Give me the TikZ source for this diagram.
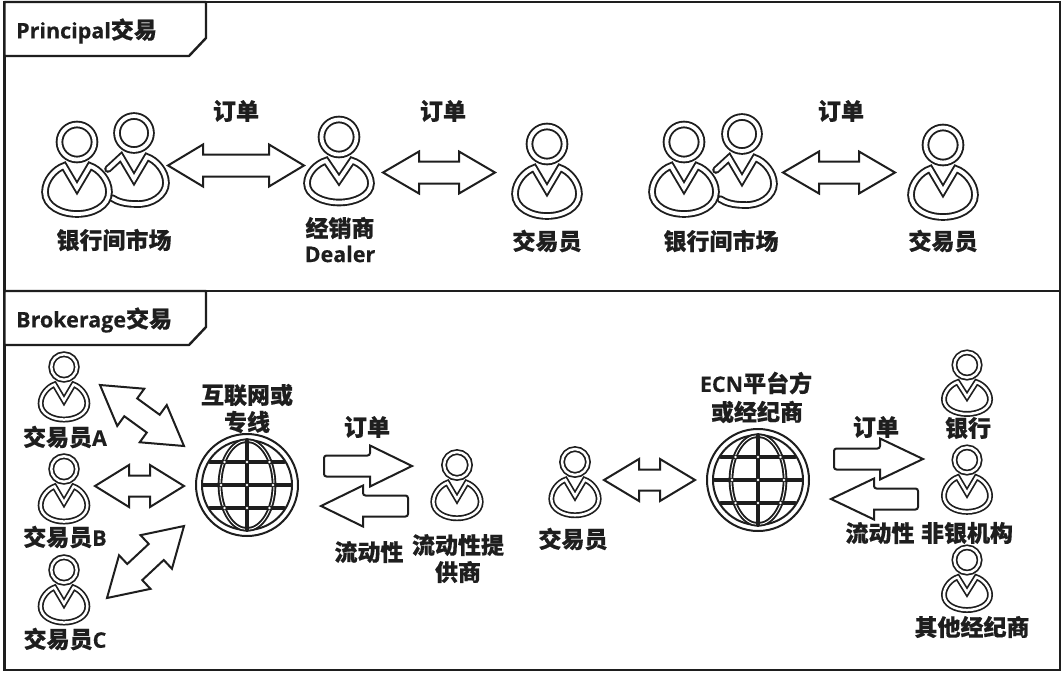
\documentclass[tikz,border=0pt]{standalone}
\usepackage{fontspec}
\setmainfont[BoldFeatures={FakeBold=0.3}]{Open Sans}
\newfontfamily\cjkf[BoldFeatures={FakeBold=0.5}]{Noto Sans CJK SC}
\newcommand{\zh}[1]{{\cjkf\bfseries\fontsize{23}{25}\selectfont #1}}
\definecolor{ink}{HTML}{1E1E1E}
\tikzset{
  frameline/.style={draw=ink,line width=2.4pt,line join=miter},
  tabbox/.style={draw=ink,line width=2.4pt,fill=white,line join=round},
  lbl/.style={text=ink,inner sep=0pt,font=\bfseries\fontsize{21.5}{24}\selectfont},
  tabtxt/.style={lbl,anchor=west},
  bigline/.style={draw=ink,fill=none,line width=1.9pt,double=white,double distance=3.8pt,line join=miter},
  smallline/.style={draw=ink,fill=none,line width=1.7pt,double=white,double distance=2.5pt,line join=miter},
  block/.style={draw=ink,line width=2pt,fill=white,line join=miter},
  ringline/.style={draw=ink,line width=2pt},
  gridline/.style={draw=ink,line cap=round},
  merid/.style={draw=ink,line width=1.9pt,double=white,double distance=0.9pt},
}
% #1 name, #2 x, #3 y, #4 scale, #5 vertical scale of the body, #6 line style
\newcommand{\person}[6]{%
  \coordinate (#1) at (#2,#3);
  \begin{scope}[shift={(#1)},scale=#4]
    \begin{scope}[shift={(0,22)},yscale=#5,shift={(0,-22)}]
      \draw[#6] (0,46) -- (-13,24) .. controls (-22,27) and (-32,38) .. (-32,50)
        .. controls (-32,64) and (-16,72) .. (0,72)
        .. controls (16,72) and (32,64) .. (32,50)
        .. controls (32,38) and (22,27) .. (13,24) -- cycle;
    \end{scope}
    \draw[#6] (0,0) circle[radius=17.5];
  \end{scope}}
% partly hidden person behind another
\newcommand{\backperson}[3]{%
  \coordinate (#1) at (#2,#3);
  \begin{scope}[shift={(#1)}]
    \draw[bigline,line cap=round] (-26,36) -- (-13,24) -- (0,46) -- (13,24)
      .. controls (22,27) and (32,38) .. (32,50)
      .. controls (32,62) and (18,72) .. (2,71)
      .. controls (-8,71) and (-16,69) .. (-22,65);
    \draw[bigline] (0,0) circle[radius=17];
  \end{scope}}
% #1 name, #2,#3 one tip, #4,#5 other tip, #6 head length, #7 head half width, #8 shaft half width
\newcommand{\dblarrow}[8]{%
  \coordinate (#1a) at (#2,#3);
  \coordinate (#1b) at (#4,#5);
  \pgfmathsetmacro\arlen{veclen(#4-#2,#5-#3)}
  \pgfmathsetmacro\arang{atan2(-(#5-#3),#4-#2)}
  \begin{scope}[shift={(#1a)},rotate=\arang]
    \draw[block] (0,0) -- (#6,#7) -- (#6,#8) -- ({\arlen-#6},#8) -- ({\arlen-#6},#7)
      -- (\arlen,0) -- ({\arlen-#6},-#7) -- ({\arlen-#6},-#8) -- (#6,-#8) -- (#6,-#7) -- cycle;
  \end{scope}}
% #1 name, #2 tail x, #3 head-base x, #4 tip x, #5 y
\newcommand{\singlearrow}[5]{%
  \coordinate (#1a) at (#2,#5);
  \coordinate (#1b) at (#4,#5);
  \draw[block] (#3,#5-20.5) -- (#1b) -- (#3,#5+20.5) -- (#3,#5+10.5)
    [rounded corners=2.5pt] -- (#2,#5+10.5) -- (#2,#5-10.5) -- (#3,#5-10.5) [sharp corners] -- cycle;}
\newcommand{\globe}[3]{%
  \coordinate (#1) at (#2,#3);
  \begin{scope}[shift={(#1)}]
    \fill[white] (0,0) circle[radius=52];
    \draw[ringline] (0,0) circle[radius=51];
    \draw[ringline] (0,0) circle[radius=45];
    \draw[merid] (0,0) ellipse[x radius=27,y radius=44.5];
    \draw[gridline,line width=4.6pt] (-43,0) -- (43,0);
    \draw[gridline,line width=4.2pt] (-37,-23) -- (37,-23);
    \draw[gridline,line width=4.2pt] (-37,23) -- (37,23);
    \draw[gridline,line width=4.6pt] (0,-44) -- (0,44);
    \foreach \gx/\gy in {0/0,-26/0,26/0,0/-23,0/23,-22.5/-23,22.5/-23,-22.5/23,22.5/23}
      \fill[white] (\gx,\gy) circle[radius=1.3];
  \end{scope}}
\begin{document}
\begin{tikzpicture}[x=1pt,y=-1pt]
\useasboundingbox (0,0) rectangle (1063,673);
\fill[white] (0,0) rectangle (1063,673);
% frames
\coordinate (tl) at (4.5,2);
\coordinate (br) at (1060,670);
\draw[frameline] (tl) rectangle (br);
\draw[frameline] (4.5,291) -- (1060,291);
\draw[tabbox] (tl) -- (206,2) -- (206,38) -- (189,56) -- (4.5,56) -- cycle;
\draw[tabbox] (4.5,291) -- (206,291) -- (206,327) -- (189,345) -- (4.5,345) -- cycle;
% people, upper panel
\backperson{b1}{134}{133}
\person{p1}{77}{142}{1}{1}{bigline}
\person{dealer}{339}{137}{1}{0.87}{bigline}
\person{t1}{547}{144}{1}{1}{bigline}
\backperson{b2}{742}{134}
\person{p2}{684}{142}{1}{1}{bigline}
\person{t2}{943}{145}{1}{1}{bigline}
% people, lower panel
\person{ta}{64}{367}{0.73}{1}{smallline}
\person{tb}{64}{469}{0.73}{1}{smallline}
\person{tc}{64}{570}{0.73}{1}{smallline}
\person{lp}{457}{465}{0.74}{1}{smallline}
\person{t3}{575}{462}{0.74}{1}{smallline}
\person{bank}{967}{365}{0.72}{0.92}{smallline}
\person{nb}{967}{460}{0.72}{1}{smallline}
\person{ob}{967}{560}{0.72}{0.95}{smallline}
% globes
\globe{g1}{247}{485}
\globe{g2}{758}{480}
% block arrows
\dblarrow{u1}{168}{165.5}{304}{165.5}{35}{21}{11}
\dblarrow{u2}{383}{172.5}{495}{172.5}{36}{21}{11}
\dblarrow{u3}{783}{172.5}{895}{172.5}{36}{21}{11}
\dblarrow{la}{100}{385}{184}{446}{38}{23}{11}
\dblarrow{lb}{95}{486}{184}{486}{34}{21}{10.5}
\dblarrow{lc}{107}{598}{184}{526}{38}{23}{11}
\dblarrow{mid}{604}{480}{695}{480}{35}{21}{10.5}
\singlearrow{o1}{324}{370}{412}{466}
\singlearrow{q1}{408}{363}{321}{506}
\singlearrow{o2}{834}{880}{923}{459}
\singlearrow{q2}{918}{874}{831}{499}
% labels
\node[tabtxt] (tab1) at (16,31) {Principal\zh{交易}};
\node[tabtxt] (tab2) at (16,320) {Brokerage\zh{交易}};
\node[lbl] (l1) at (236,111) {\zh{订单}};
\node[lbl] (l2) at (443,111) {\zh{订单}};
\node[lbl] (l3) at (841,111) {\zh{订单}};
\node[lbl] (l4) at (114,240) {\zh{银行间市场}};
\node[lbl] (l5) at (340,228) {\zh{经销商}};
\node[lbl] (l6) at (340,254) {Dealer};
\node[lbl] (l7) at (547,241) {\zh{交易员}};
\node[lbl] (l8) at (721,241) {\zh{银行间市场}};
\node[lbl] (l9) at (943,241) {\zh{交易员}};
\node[lbl] (l10) at (65,437) {\zh{交易员}A};
\node[lbl] (l11) at (65,537) {\zh{交易员}B};
\node[lbl] (l12) at (65,639) {\zh{交易员}C};
\node[lbl] (l13) at (247,395) {\zh{互联网或}};
\node[lbl] (l14) at (247,422) {\zh{专线}};
\node[lbl] (l15) at (367,427) {\zh{订单}};
\node[lbl] (l16) at (369,552) {\zh{流动性}};
\node[lbl] (l17) at (458,545) {\zh{流动性提}};
\node[lbl] (l18) at (458,572) {\zh{供商}};
\node[lbl] (l19) at (573,539) {\zh{交易员}};
\node[lbl] (l20) at (756,383) {ECN\zh{平台方}};
\node[lbl] (l21) at (757,412) {\zh{或经纪商}};
\node[lbl] (l22) at (876,427) {\zh{订单}};
\node[lbl] (l23) at (968,428) {\zh{银行}};
\node[lbl] (l24) at (880,533) {\zh{流动性}};
\node[lbl] (l25) at (967,533) {\zh{非银机构}};
\node[lbl] (l26) at (972,627) {\zh{其他经纪商}};
\end{tikzpicture}
\end{document}
